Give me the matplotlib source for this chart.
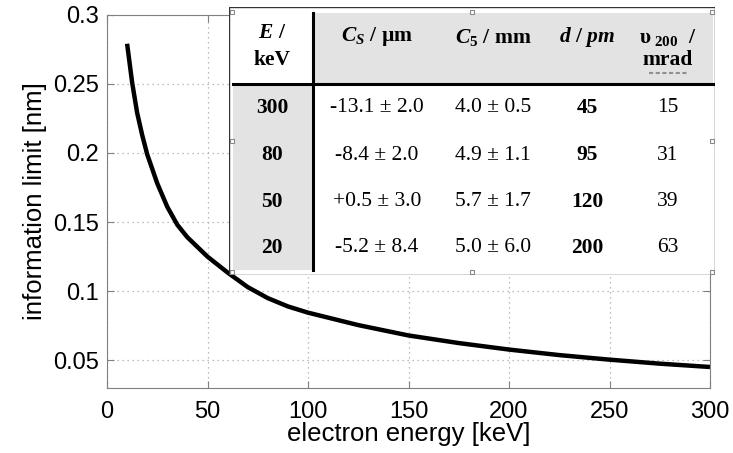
import numpy as np
import matplotlib
matplotlib.use('Agg')
import matplotlib.pyplot as plt
from matplotlib.patches import Rectangle

plt.rcParams['font.family'] = 'Liberation Sans'
plt.rcParams['mathtext.fontset'] = 'custom'
plt.rcParams['mathtext.rm'] = 'Liberation Serif:bold'
plt.rcParams['mathtext.it'] = 'Liberation Serif:italic:bold'
plt.rcParams['mathtext.bf'] = 'Liberation Serif:bold'

# curve
energy = [10, 12.5, 15, 17.5, 20, 25, 30, 35, 40, 50, 60, 70, 80, 90, 100,
          125, 150, 175, 200, 225, 250, 275, 300]
info_limit = [0.279, 0.251, 0.229, 0.213, 0.199, 0.178, 0.161, 0.148, 0.139,
              0.125, 0.1135, 0.103, 0.095, 0.089, 0.0845, 0.0755, 0.068,
              0.0625, 0.0578, 0.0538, 0.0505, 0.0476, 0.0452]

# table contents
tab_E = ['300', '80', '50', '20']
tab_cs = ['-13.1 ± 2.0', '-8.4 ± 2.0', '+0.5 ± 3.0', '-5.2 ± 8.4']
tab_c5 = ['4.0 ± 0.5', '4.9 ± 1.1', '5.7 ± 1.7', '5.0 ± 6.0']
tab_d = ['45', '95', '120', '200']
tab_ang = ['15', '31', '39', '63']

W, H = 733, 453
fig = plt.figure(figsize=(W / 100, H / 100), dpi=100)
ax = fig.add_axes([107 / W, 1 - 388 / H, 603 / W, 373.3 / H])

ax.plot(energy, info_limit, color='black', lw=3.2, solid_capstyle='butt')
ax.set_xlim(0, 300)
ax.set_ylim(0.03, 0.3)
ax.set_xticks([0, 50, 100, 150, 200, 250, 300])
ax.set_yticks([0.05, 0.1, 0.15, 0.2, 0.25, 0.3])
ax.set_yticklabels(['0.05', '0.1', '0.15', '0.2', '0.25', '0.3'])
ax.grid(True, linestyle=(0, (1, 3)), color='#a8a8a8', lw=0.9)
ax.tick_params(direction='in', top=True, right=True, length=5, color='#808080',
               labelsize=17, pad=6)
ax.tick_params(axis='x', pad=9)
for s in ax.spines.values():
    s.set_color('#808080')
ax.set_xlabel('electron energy [keV]', fontsize=18.5, labelpad=0)
ax.set_ylabel('information limit [nm]', fontsize=18.5, labelpad=4)

# inset table
tx = fig.add_axes([229 / W, 1 - 275 / H, 486 / W, 268 / H])
tx.set_xlim(0, 486)
tx.set_ylim(268, 0)
tx.axis('off')
tx.add_patch(Rectangle((0, 0), 486, 268, facecolor='white', edgecolor='#333333', lw=1.0))
tx.add_patch(Rectangle((84, 6), 400, 71, facecolor='#e3e3e3', edgecolor='none'))
tx.add_patch(Rectangle((4, 78), 80, 185, facecolor='#e3e3e3', edgecolor='none'))
tx.plot([83.5, 83.5], [6, 263], color='black', lw=2.2)
tx.plot([4, 484], [76.6, 76.6], color='black', lw=2.2)

serif = 'Liberation Serif'
col_x = [43, 148, 264, 358, 439]
fs = 15.5
tx.text(col_x[0], 25, r'$E\ /$', ha='center', va='center', fontsize=fs)
tx.text(col_x[0], 53, 'keV', ha='center', va='center', fontsize=fs,
        family=serif, weight='bold')
tx.text(col_x[1], 30, r'$C_S\ /\ \mathrm{µm}$', ha='center', va='center', fontsize=fs)
tx.text(col_x[2], 30, r'$C_5\ /\ \mathrm{mm}$', ha='center', va='center', fontsize=fs)
tx.text(col_x[3], 30, r'$d\ /\ pm$', ha='center', va='center', fontsize=fs)
tx.text(col_x[4], 30, r'$\mathrm{υ}_{\ 200}\ \ \mathrm{/}$', ha='center', va='center',
        fontsize=fs)
tx.text(col_x[4], 53, 'mrad', ha='center', va='center', fontsize=fs,
        family=serif, weight='bold')
tx.plot([420, 459], [66, 66], color='#909090', lw=1.5, linestyle=(0, (2, 1.2)))

row_y = [101, 148, 195, 241]
for i, y in enumerate(row_y):
    tx.text(col_x[0], y, tab_E[i], ha='center', va='center', fontsize=fs,
            family=serif, weight='bold')
    tx.text(col_x[1], y, tab_cs[i], ha='center', va='center', fontsize=fs, family=serif)
    tx.text(col_x[2], y, tab_c5[i], ha='center', va='center', fontsize=fs, family=serif)
    tx.text(col_x[3], y, tab_d[i], ha='center', va='center', fontsize=fs,
            family=serif, weight='bold')
    tx.text(col_x[4], y, tab_ang[i], ha='center', va='center', fontsize=fs, family=serif)

# selection handles
hx = [3, 243, 483, 3, 483, 3, 243, 483]
hy = [5, 5, 5, 134, 134, 265, 265, 265]
tx.plot(hx, hy, linestyle='none', marker='s', ms=3.5, mfc='white', mec='#888888',
        mew=0.8)

fig.savefig('out.png', dpi=100)
